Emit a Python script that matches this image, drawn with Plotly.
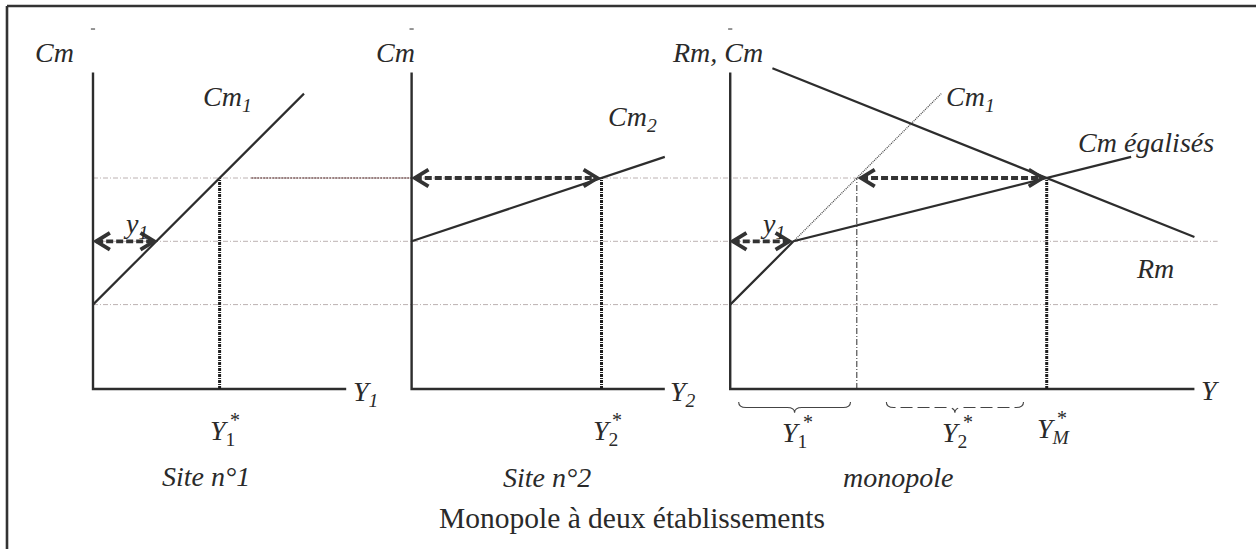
import numpy as np
import plotly.graph_objects as go

W, H = 1256, 549

# ---------------- data (economic units) ----------------
panel_names = ["Site n°1", "Site n°2", "monopole"]
panel_x0 = [0.0, 15.1, 30.2]          # horizontal origin of each panel
axis_q_max = [12, 12, 22]             # length of each quantity axis
axis_p_max = 15                       # height of each price axis

price_levels = [4, 7, 10]             # Cm1 intercept, Cm2 intercept, equilibrium Cm

cm1_q = [0, 10]
cm1_p = [4, 14]
cm2_q = [0, 12]
cm2_p = [7, 11]
cme_q = [0, 3, 19]                    # Cm égalisés (kinked)
cme_p = [4, 7, 11]
cm1_ext_q = [3, 10]                   # dotted continuation of Cm1 in monopole panel
cm1_ext_p = [7, 14]
rm_q = [2, 22]
rm_p = [15.2, 7.2]

y1_small = 3                          # y1
y1_star = 6
y2_star = 9
ym_star = 15
brace_spans = [(0.4, 5.7), (7.4, 13.9)]

S = 21.1                              # px per unit
X_RANGE = [-93 / S, (W - 93) / S]
Y_RANGE = [(389 - H) / S, 389 / S]


def X(panel, q):
    return [float(v) for v in panel_x0[panel] + np.atleast_1d(np.asarray(q, dtype=float))]


INK = "#2d2d2d"
GRID = "#bcb2b2"
fig = go.Figure()


def line(xs, ys, color=INK, width=2.2, dash="solid"):
    fig.add_trace(go.Scatter(x=xs, y=ys, mode="lines",
                             line=dict(color=color, width=width, dash=dash),
                             hoverinfo="skip", showlegend=False))


# horizontal reference lines
line([X(0, 0)[0], X(2, y1_star)[0]], [price_levels[2]] * 2, GRID, 1, "5px,2px,1px,2px")
line([X(0, 7.5)[0], X(1, 0)[0]], [price_levels[2]] * 2, "#9a8080", 1.8, "2px,1px")
line([X(0, 0)[0], X(2, 23.1)[0]], [price_levels[1]] * 2, GRID, 1, "5px,2px,1px,2px")
line([X(0, 0)[0], X(2, 23.1)[0]], [price_levels[0]] * 2, GRID, 1, "5px,2px,1px,2px")

# axes
for k in range(3):
    line(X(k, [axis_q_max[k], 0, 0]), [0, 0, axis_p_max], INK, 2.4)
fig.add_trace(go.Scatter(x=[X(k, 0)[0] for k in range(3)], y=[17.06] * 3, mode="markers",
                         marker=dict(symbol="line-ew", size=3, line=dict(width=1, color=INK)),
                         hoverinfo="skip", showlegend=False))

# vertical guide lines
line(X(0, [y1_star, y1_star]), [0, price_levels[2]], "#1e1e1e", 3, "3px,1px,1px,1px")
line(X(1, [y2_star, y2_star]), [0, price_levels[2]], "#1e1e1e", 3, "3px,1px,1px,1px")
line(X(2, [y1_star, y1_star]), [0, price_levels[2]], INK, 1, "6px,2px,1px,2px")
line(X(2, [ym_star, ym_star]), [0, price_levels[2]], "#1e1e1e", 3, "3px,1px,1px,1px")

# curves
line(X(0, cm1_q), cm1_p)
line(X(1, cm2_q), cm2_p)
line(X(2, cme_q), cme_p)
line(X(2, cm1_ext_q), cm1_ext_p, "#4a4a4a", 1.3, "1px,1px")
line(X(2, rm_q), rm_p)


# double arrows
def darrow(xa, xb, p):
    line([xa, xb], [p, p], "#333333", 3.8, "7px,3px")
    L, Hh = 0.65, 0.4
    line([xa + L, xa, xa + L], [p + Hh, p, p - Hh], "#333333", 3.8)
    line([xb - L, xb, xb - L], [p + Hh, p, p - Hh], "#333333", 3.8)


darrow(X(0, 0.15)[0], X(0, y1_small - 0.1)[0], price_levels[1])
darrow(X(1, 0.15)[0], X(1, y2_star - 0.2)[0], price_levels[2])
darrow(X(2, 0.12)[0], X(2, y1_small - 0.2)[0], price_levels[1])
darrow(X(2, y1_star + 0.2)[0], X(2, ym_star - 0.2)[0], price_levels[2])

# braces
shapes = []
yt, yb, ytip = -0.62, -0.88, -1.12
for i, (a, b) in enumerate(brace_spans):
    x0, x1 = X(2, a)[0], X(2, b)[0]
    xm = (x0 + x1) / 2
    r = 0.35
    path = (f"M {x0},{yt} Q {x0},{yb} {x0 + r},{yb} L {xm - r},{yb} "
            f"Q {xm},{yb} {xm},{ytip} Q {xm},{yb} {xm + r},{yb} "
            f"L {x1 - r},{yb} Q {x1},{yb} {x1},{yt}")
    shapes.append(dict(type="path", path=path, xref="x", yref="y",
                       line=dict(color="#444444", width=1.1,
                                 dash="solid" if i == 0 else "12px,5px")))

# frame (left + top edges visible)
shapes.append(dict(type="line", xref="paper", yref="paper", x0=7 / W, x1=7 / W,
                   y0=0, y1=1 - 6 / H, line=dict(color="#333333", width=2.6)))
shapes.append(dict(type="line", xref="paper", yref="paper", x0=7 / W, x1=1,
                   y0=1 - 6 / H, y1=1 - 6 / H, line=dict(color="#333333", width=2.6)))

FONT = "Liberation Serif"
ann = []


def txt(px, py, s, size=28, italic=True):
    ann.append(dict(x=px / W, y=1 - py / H, xref="paper", yref="paper",
                    text=f"<i>{s}</i>" if italic else s,
                    showarrow=False, xanchor="center", yanchor="middle",
                    font=dict(family=FONT, size=size, color="#2a2a2a")))


txt(54, 52, "Cm")
txt(395, 52, "Cm")
txt(717, 52, "Rm, Cm")
txt(228, 99, "Cm<sub>1</sub>")
txt(632, 119, "Cm<sub>2</sub>")
txt(970, 99, "Cm<sub>1</sub>")
txt(1146, 142, "Cm égalisés")
txt(1155, 268, "Rm")
txt(135, 226, "y<sub>1</sub>")
txt(772, 226, "y<sub>1</sub>")
txt(365, 394, "Y<sub>1</sub>")
txt(683, 394, "Y<sub>2</sub>")
txt(1210, 390, "Y")
txt(206, 476, panel_names[0])
txt(547, 477, panel_names[1])
txt(898, 477, panel_names[2])
txt(632, 518, "Monopole à deux établissements", size=29.5, italic=False)

# starred quantities
txt(223, 432, "<i>Y</i><sub>1</sub>", italic=False)
txt(235, 420, "*", size=20, italic=False)
txt(605, 432, "<i>Y</i><sub>2</sub>", italic=False)
txt(617, 420, "*", size=20, italic=False)
txt(794, 434, "<i>Y</i><sub>1</sub>", italic=False)
txt(808, 422, "*", size=20, italic=False)
txt(954, 434, "<i>Y</i><sub>2</sub>", italic=False)
txt(968, 422, "*", size=20, italic=False)
txt(1054, 430, "<i>Y<sub>M</sub></i>", italic=False)
txt(1062, 418, "*", size=20, italic=False)

fig.update_layout(
    width=W, height=H, autosize=False,
    margin=dict(l=0, r=0, t=0, b=0, pad=0),
    paper_bgcolor="white", plot_bgcolor="white",
    showlegend=False,
    xaxis=dict(range=X_RANGE, visible=False, fixedrange=True),
    yaxis=dict(range=Y_RANGE, visible=False, fixedrange=True),
    shapes=shapes, annotations=ann,
)

fig.write_html("out.html", config={"displayModeBar": False},
               post_script="document.body.style.margin='0';document.body.style.overflow='hidden';")
